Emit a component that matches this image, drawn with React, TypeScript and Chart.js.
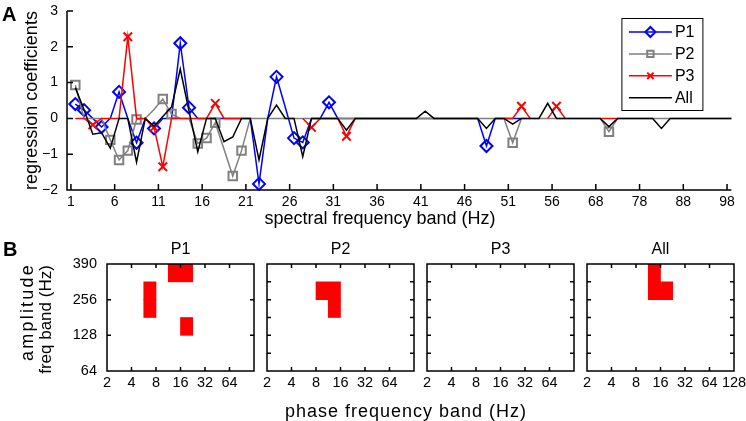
import React, { useEffect, useRef } from 'react';
import { Chart, registerables } from 'chart.js';
import { drawPoint } from 'chart.js/helpers';

Chart.register(...registerables);

const FONT = '"Liberation Sans", Arial, Helvetica, sans-serif';
Chart.defaults.font.family = FONT;
Chart.defaults.color = '#000';

const BLUE = '#0000ff';
const GRAY = '#808080';
const RED = '#ff0000';
const BLACK = '#000000';

// ---------- Panel A: regression coefficients per spectral band ----------
const bandTickPos = [0, 5, 10, 15, 20, 25, 30, 35, 40, 45, 50, 55, 60, 65, 70, 75];
const bandTickLabels = ['1', '6', '11', '16', '21', '26', '31', '36', '41', '46', '51', '56', '68', '78', '88', '98'];
const coefTickPos = [-2, -1, 0, 1, 2, 3];
const coefTickLabels = ['\u22122', '\u22121', '0', '1', '2', '3'];

const p1Coef: (number | null)[] = [
  0.40, 0.23, 0, -0.24, 0, 0.74, 0, -0.68, 0, -0.28,
  0, 0, 2.10, 0.30, 0, 0, 0, 0, 0, 0,
  0, -1.83, 0, 1.16, 0.31, -0.55, -0.67, 0, 0, 0.45,
  0, 0, 0, 0, 0, 0, 0, 0, 0, 0,
  0, 0, 0, 0, 0, 0, 0, -0.77, 0, 0,
  0, 0, null, null, null, null, null, null, null, null,
  null, null, null, null, null, null, null, null, null, null,
  null, null, null, null, null, null,
];
const p1Marked = [0, 1, 3, 5, 7, 9, 12, 13, 21, 23, 25, 26, 29, 47];

const p2Coef: (number | null)[] = [
  0.93, 0, 0, 0, -0.60, -1.16, -0.90, -0.03, 0, 0.25,
  0.54, 0.12, 0, 0, -0.70, -0.55, -0.12, -0.86, -1.61, -0.90,
  0, 0, 0, 0, 0, 0, 0, 0, 0, 0,
  0, 0, 0, 0, 0, 0, 0, 0, 0, 0,
  0, 0, 0, 0, 0, 0, 0, 0, 0, 0,
  -0.68, 0, 0, 0, 0, 0, 0, 0, 0, 0,
  0, -0.37, 0, 0, 0, 0, 0, 0, 0, 0,
  0, 0, 0, 0, 0, 0,
];
const p2Marked = [0, 4, 5, 6, 7, 10, 11, 14, 15, 16, 18, 19, 50, 61];

const p3Coef: (number | null)[] = [
  0, 0, -0.18, 0, 0, 0, 2.28, 0, 0, -0.25,
  -1.35, 0, 0, 0, 0, 0, 0.42, 0, 0, 0,
  null, null, null, null, null, null, 0, -0.25, 0, 0,
  0, -0.50, 0, null, null, null, null, null, null, null,
  null, null, null, null, null, null, null, null, null, 0,
  0, 0.34, 0, null, 0, 0.34, 0, null, null, null,
  0, 0, 0, null, null, null, null, null, null, null,
  null, null, null, null, null, null,
];
const p3Marked = [2, 6, 9, 10, 16, 27, 31, 51, 55];

const allCoef: (number | null)[] = [
  0.86, 0.24, -0.44, -0.40, -0.83, 0, 0, -1.22, 0, -0.22,
  0.05, 0.32, 1.38, 0.20, -0.93, 0, 0, -0.65, -0.52, 0,
  0, -1.16, 0, 0.37, 0, 0, -1.07, 0, 0, 0,
  0, -0.33, 0, 0, 0, 0, 0, 0, 0, 0,
  0.20, 0, 0, 0, 0, 0, 0, -0.28, 0, 0,
  -0.16, 0, 0, 0, 0.42, 0, 0, 0, 0, 0,
  0, -0.23, 0, 0, 0, 0, 0, -0.28, 0, 0,
  0, 0, 0, 0, 0, 0,
];

const seriesNames = ['P1', 'P2', 'P3', 'All'];

// ---------- Panel B: significant cells (row in amplitude band units, phase log2 start, end) ----------
const ampTickPos = [0, 1, 2, 3, 4, 5, 6];
const ampTickLabels = ['64', '', '128', '', '256', '', '390'];
const phaseTickPos = [1, 2, 3, 4, 5, 6, 7];
const phaseTickLabels = ['2', '4', '8', '16', '32', '64', '128'];

const cellsP1: [number, number, number][] = [
  [3.5, 2.5, 3], [4.5, 2.5, 3], [5.5, 3.5, 4.5], [2.5, 4, 4.5],
];
const cellsP2: [number, number, number][] = [
  [4.5, 3, 4], [3.5, 3.5, 4],
];
const cellsP3: [number, number, number][] = [];
const cellsAll: [number, number, number][] = [
  [5.5, 3.5, 4], [4.5, 3.5, 4.5],
];

// ---------- helpers ----------
const toPoints = (vals: (number | null)[]) => vals.map((v, i) => ({ x: i + 0.5, y: v }));
const radiusFor = (marked: number[], r: number) => (ctx: any) => (marked.includes(ctx.dataIndex) ? r : 0);

const legendStyles = [
  { color: BLUE, style: 'rectRot', r: 5 },
  { color: GRAY, style: 'rect', r: 4.5 },
  { color: RED, style: 'crossRot', r: 4.5 },
  { color: BLACK, style: false as any, r: 0 },
];

const topFramePlugin = {
  id: 'topFrame',
  afterDraw(chart: any) {
    const { ctx, chartArea: a, scales } = chart;
    const x = scales.x;
    const y = scales.y;
    ctx.save();
    ctx.strokeStyle = '#000';
    ctx.lineWidth = 1.5;
    ctx.beginPath();
    ctx.moveTo(a.left, a.top);
    ctx.lineTo(a.left, a.bottom);
    ctx.lineTo(a.right, a.bottom);
    x.ticks.forEach((t: any) => {
      const px = x.getPixelForValue(t.value);
      ctx.moveTo(px, a.bottom);
      ctx.lineTo(px, a.bottom - 6);
    });
    y.ticks.forEach((t: any) => {
      const py = y.getPixelForValue(t.value);
      ctx.moveTo(a.left, py);
      ctx.lineTo(a.left + 6, py);
    });
    ctx.stroke();

    // legend box
    const lx = a.right - 109.5;
    const ly = a.top + 7.5;
    const lw = 81;
    const lh = 92;
    ctx.fillStyle = '#fff';
    ctx.fillRect(lx, ly, lw, lh);
    ctx.lineWidth = 1;
    ctx.strokeStyle = '#000';
    ctx.strokeRect(lx, ly, lw, lh);
    ctx.font = '16px ' + FONT;
    ctx.textBaseline = 'middle';
    ctx.textAlign = 'left';
    seriesNames.forEach((name, k) => {
      const yy = ly + 13.5 + k * 21.9;
      const st = legendStyles[k];
      ctx.strokeStyle = st.color;
      ctx.lineWidth = 1.5;
      ctx.beginPath();
      ctx.moveTo(lx + 7, yy);
      ctx.lineTo(lx + 50, yy);
      ctx.stroke();
      if (st.style) {
        ctx.lineWidth = 2;
        ctx.fillStyle = 'rgba(0,0,0,0)';
        drawPoint(ctx, { pointStyle: st.style, radius: st.r, rotation: 0, borderWidth: 2 } as any, lx + 28.5, yy);
      }
      ctx.fillStyle = '#000';
      ctx.fillText(name, lx + 53, yy + 1);
    });
    ctx.restore();
  },
};

const panelFramePlugin = {
  id: 'panelFrame',
  afterDraw(chart: any) {
    const { ctx, chartArea: a, scales } = chart;
    const x = scales.x;
    const y = scales.y;
    ctx.save();
    ctx.strokeStyle = '#000';
    ctx.lineWidth = 1.5;
    ctx.beginPath();
    ctx.rect(a.left, a.top, a.right - a.left, a.bottom - a.top);
    x.ticks.forEach((t: any) => {
      if (t.value <= x.min || t.value >= x.max) return;
      const px = x.getPixelForValue(t.value);
      ctx.moveTo(px, a.bottom);
      ctx.lineTo(px, a.bottom - 4);
      ctx.moveTo(px, a.top);
      ctx.lineTo(px, a.top + 4);
    });
    y.ticks.forEach((t: any) => {
      if (t.value <= y.min || t.value >= y.max) return;
      const py = y.getPixelForValue(t.value);
      ctx.moveTo(a.left, py);
      ctx.lineTo(a.left + 4, py);
      ctx.moveTo(a.right, py);
      ctx.lineTo(a.right - 4, py);
    });
    ctx.stroke();
    ctx.restore();
  },
};

function makeTopConfig(): any {
  return {
    type: 'line',
    data: {
      datasets: [
        {
          label: 'P1', data: toPoints(p1Coef), borderColor: BLUE, borderWidth: 1.5,
          pointStyle: 'rectRot', pointRadius: radiusFor(p1Marked, 6), pointBorderColor: BLUE,
          pointBackgroundColor: 'rgba(0,0,0,0)', pointBorderWidth: 2, order: 4, clip: false,
        },
        {
          label: 'P2', data: toPoints(p2Coef), borderColor: GRAY, borderWidth: 1.5,
          pointStyle: 'rect', pointRadius: radiusFor(p2Marked, 6), pointBorderColor: GRAY,
          pointBackgroundColor: 'rgba(0,0,0,0)', pointBorderWidth: 2, order: 3, clip: false,
        },
        {
          label: 'P3', data: toPoints(p3Coef), borderColor: RED, borderWidth: 1.5,
          pointStyle: 'crossRot', pointRadius: radiusFor(p3Marked, 6), pointBorderColor: RED,
          pointBackgroundColor: 'rgba(0,0,0,0)', pointBorderWidth: 2, order: 2, clip: false,
        },
        {
          label: 'All', data: toPoints(allCoef), borderColor: BLACK, borderWidth: 1.5,
          pointRadius: 0, order: 1, clip: false,
        },
      ],
    },
    options: {
      animation: false,
      responsive: false,
      events: [],
      layout: { padding: { left: 0, top: 11, right: 14.6, bottom: 0 } },
      plugins: { legend: { display: false }, tooltip: { enabled: false } },
      scales: {
        x: {
          type: 'linear', min: -0.45, max: 75.5,
          afterBuildTicks: (s: any) => { s.ticks = bandTickPos.map((v) => ({ value: v })); },
          afterFit: (s: any) => { s.height = 40; },
          grid: { display: false, drawTicks: false }, border: { display: false },
          ticks: {
            font: { size: 14 }, color: '#000', padding: 4, maxRotation: 0, autoSkip: false,
            callback: (v: any) => bandTickLabels[bandTickPos.indexOf(Number(v))] ?? '',
          },
        },
        y: {
          type: 'linear', min: -2, max: 3,
          afterBuildTicks: (s: any) => { s.ticks = coefTickPos.map((v) => ({ value: v })); },
          afterFit: (s: any) => { s.width = 67; },
          grid: { display: false, drawTicks: true, tickLength: 9 }, border: { display: false },
          ticks: {
            font: { size: 14 }, color: '#000', padding: 0,
            callback: (v: any) => coefTickLabels[coefTickPos.indexOf(Number(v))] ?? '',
          },
          title: {
            display: true, text: 'regression coefficients', color: '#000',
            font: { size: 18 }, padding: { top: 21, bottom: 0 },
          },
        },
      },
    },
    plugins: [topFramePlugin],
  };
}

function makePanelConfig(cells: [number, number, number][], showY: boolean, showLast: boolean, padL: number, padR: number): any {
  return {
    type: 'bar',
    data: {
      datasets: [
        {
          data: cells.map(([row, a, b]) => ({ y: row, x: [a, b] })),
          backgroundColor: RED, borderWidth: 0, barPercentage: 1, categoryPercentage: 1,
        },
      ],
    },
    options: {
      indexAxis: 'y',
      animation: false,
      responsive: false,
      events: [],
      layout: { padding: { left: showY ? 0 : padL, right: padR, top: 34, bottom: 20 } },
      plugins: { legend: { display: false }, tooltip: { enabled: false } },
      scales: {
        x: {
          type: 'linear', min: 1, max: 7, offset: false,
          afterBuildTicks: (s: any) => { s.ticks = phaseTickPos.map((v) => ({ value: v })); },
          afterFit: (s: any) => { s.height = 30; },
          grid: { display: false, drawTicks: false, offset: false }, border: { display: false },
          ticks: {
            font: { size: 14.5 }, color: '#000', padding: 3, maxRotation: 0, autoSkip: false,
            callback: (v: any) => {
              const k = phaseTickPos.indexOf(Number(v));
              if (k === phaseTickPos.length - 1 && !showLast) return '';
              return phaseTickLabels[k] ?? '';
            },
          },
        },
        y: {
          type: 'linear', min: 0, max: 6, offset: false,
          afterBuildTicks: (s: any) => { s.ticks = ampTickPos.map((v) => ({ value: v })); },
          afterFit: (s: any) => { s.width = showY ? padL : 0; },
          grid: { display: false, drawTicks: false, offset: false }, border: { display: false },
          ticks: {
            display: showY, font: { size: 14.5 }, color: '#000', padding: 10,
            callback: (v: any) => ampTickLabels[ampTickPos.indexOf(Number(v))] ?? '',
          },
        },
      },
    },
    plugins: [panelFramePlugin],
  };
}

function ChartCanvas(props: { left: number; top: number; width: number; height: number; make: () => any }) {
  const ref = useRef<HTMLCanvasElement>(null);
  useEffect(() => {
    const chart = new Chart(ref.current as HTMLCanvasElement, props.make());
    return () => chart.destroy();
  }, []);
  return (
    <canvas
      ref={ref}
      width={props.width}
      height={props.height}
      style={{ position: 'absolute', left: props.left, top: props.top, width: props.width, height: props.height }}
    />
  );
}

function Label(props: {
  text: string; cx?: number; left?: number; top: number; size: number; bold?: boolean;
  rotate?: boolean; cy?: number; spacing?: number;
}) {
  const w = 400;
  const style: any = {
    position: 'absolute',
    top: props.top,
    fontFamily: FONT,
    fontSize: props.size,
    lineHeight: props.size + 'px',
    fontWeight: props.bold ? 'bold' : 'normal',
    whiteSpace: 'nowrap',
    color: '#000',
    letterSpacing: props.spacing ? props.spacing + 'px' : 'normal',
  };
  if (props.cx !== undefined) {
    style.left = props.cx - w / 2;
    style.width = w;
    style.textAlign = 'center';
  } else {
    style.left = props.left;
  }
  if (props.rotate && props.cx !== undefined && props.cy !== undefined) {
    style.top = props.cy - props.size / 2;
    style.transform = 'rotate(-90deg)';
    style.transformOrigin = '50% 50%';
  }
  return <div style={style}>{props.text}</div>;
}

const panelLefts = [107, 267, 427, 587];
const panelWidth = 147;
const panelTitles = ['P1', 'P2', 'P3', 'All'];

export default function App() {
  return (
    <div style={{ position: 'fixed', left: 0, top: 0, width: 746, height: 421, background: '#fff', overflow: 'hidden' }}>
      <ChartCanvas left={0} top={0} width={746} height={230} make={makeTopConfig} />
      <ChartCanvas left={0} top={230} width={107 + panelWidth + 10} height={191}
        make={() => makePanelConfig(cellsP1, true, false, 107, 10)} />
      <ChartCanvas left={panelLefts[1] - 10} top={230} width={10 + panelWidth + 10} height={191}
        make={() => makePanelConfig(cellsP2, false, false, 10, 10)} />
      <ChartCanvas left={panelLefts[2] - 10} top={230} width={10 + panelWidth + 10} height={191}
        make={() => makePanelConfig(cellsP3, false, false, 10, 10)} />
      <ChartCanvas left={panelLefts[3] - 10} top={230} width={10 + panelWidth + 18} height={191}
        make={() => makePanelConfig(cellsAll, false, true, 10, 18)} />
      <Label text="A" left={2} top={4} size={20} bold />
      <Label text="B" left={3} top={239} size={20} bold />
      <Label text="spectral frequency band (Hz)" cx={380} top={209} size={18} />
      {panelTitles.map((t, k) => (
        <Label key={t} text={t} cx={panelLefts[k] + panelWidth / 2} top={241} size={16} />
      ))}
      <Label text="amplitude" cx={27} cy={312} top={0} size={18} rotate spacing={2.2} />
      <Label text="freq band (Hz)" cx={45} cy={319} top={0} size={17} rotate />
      <Label text="phase frequency band (Hz)" cx={406} top={402} size={18} spacing={1} />
    </div>
  );
}
